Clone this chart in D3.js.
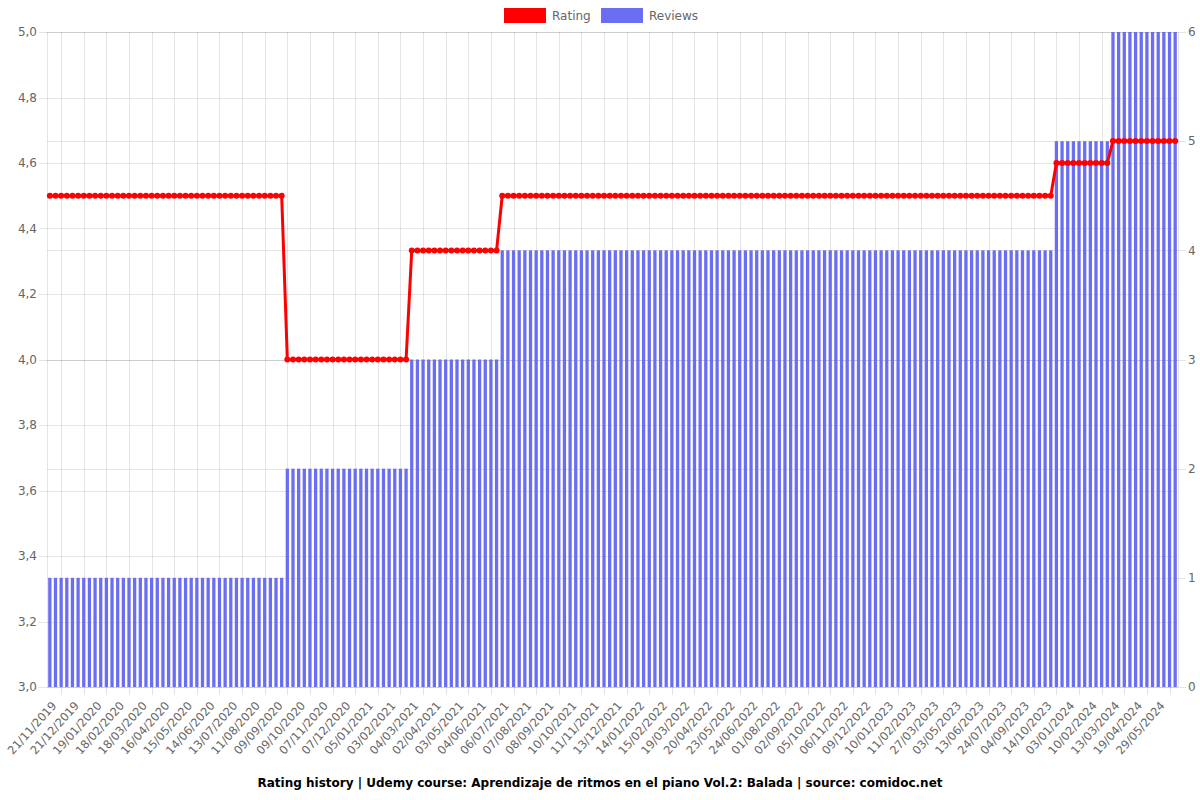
<!DOCTYPE html>
<html>
<head>
<meta charset="utf-8">
<script src="https://cdn.jsdelivr.net/npm/d3@7"></script>
<style>
  html, body { margin: 0; padding: 0; background: #fff; }
  svg { display: block; }
</style>
</head>
<body>
<div id="vis"></div>
<script>
// x axis labels shown on the chart (every 4th point carries a label)
const tickLabels = [
  "21/11/2019", "21/12/2019", "19/01/2020", "18/02/2020", "18/03/2020", "16/04/2020",
  "15/05/2020", "14/06/2020", "13/07/2020", "11/08/2020", "09/09/2020", "09/10/2020",
  "07/11/2020", "07/12/2020", "05/01/2021", "03/02/2021", "04/03/2021", "02/04/2021",
  "03/05/2021", "04/06/2021", "06/07/2021", "07/08/2021", "08/09/2021", "10/10/2021",
  "11/11/2021", "13/12/2021", "14/01/2022", "15/02/2022", "19/03/2022", "20/04/2022",
  "23/05/2022", "24/06/2022", "01/08/2022", "02/09/2022", "05/10/2022", "06/11/2022",
  "09/12/2022", "10/01/2023", "11/02/2023", "27/03/2023", "03/05/2023", "13/06/2023",
  "24/07/2023", "04/09/2023", "14/10/2023", "03/01/2024", "10/02/2024", "13/03/2024",
  "19/04/2024", "29/05/2024"
];
const firstLabelIndex = 2;
const labelEvery = 4;

// the data is a step series: each run holds the same values for a number of points
const runLengths   = [42, 22, 16, 98, 10, 12];
const ratingRuns   = [4.5, 4.0, 4.333, 4.5, 4.6, 4.667];
const reviewRuns   = [1, 2, 3, 4, 5, 6];

const ratingTicks = [3.0, 3.2, 3.4, 3.6, 3.8, 4.0, 4.2, 4.4, 4.6, 4.8, 5.0];
const reviewTicks = [0, 1, 2, 3, 4, 5, 6];

const title = "Rating history | Udemy course: Aprendizaje de ritmos en el piano Vol.2: Balada | source: comidoc.net";
const font = "'DejaVu Sans', Helvetica, Arial, sans-serif";

(function draw() {
  // one entry per point
  var points = [];
  runLengths.forEach((n, r) => {
    for (var k = 0; k < n; k++) {
      points.push({ i: points.length, rating: ratingRuns[r], reviews: reviewRuns[r] });
    }
  });

  var W = 1200, H = 800;
  var pLeft = 47, pRight = 1178, pTop = 32, pBottom = 687;

  var svg = d3.select("#vis").append("svg")
    .attr("width", W).attr("height", H)
    .style("font-family", font);

  var x = d3.scaleBand()
    .domain(points.map(d => d.i))
    .range([pLeft, pRight])
    .paddingInner(0.42)
    .paddingOuter(0.21);
  var cx = i => x(i) + x.bandwidth() / 2;

  var yL = d3.scaleLinear().domain([3, 5]).range([pBottom, pTop]);
  var yR = d3.scaleLinear().domain([0, 6]).range([pBottom, pTop]);

  var gridColor = "rgba(0,0,0,0.1)";
  var barColor = "rgba(99,102,241,0.95)";

  // vertical grid + tick marks
  var tickIdx = tickLabels.map((t, k) => firstLabelIndex + k * labelEvery);
  svg.append("g").selectAll("line").data(tickIdx).join("line")
    .attr("x1", d => Math.round(cx(d)) + 0.5).attr("x2", d => Math.round(cx(d)) + 0.5)
    .attr("y1", pTop).attr("y2", pBottom + 8)
    .attr("stroke", gridColor).attr("stroke-width", 1);

  // horizontal grid, left axis
  svg.append("g").selectAll("line").data(ratingTicks).join("line")
    .attr("x1", pLeft - 8).attr("x2", pRight)
    .attr("y1", d => Math.round(yL(d)) + 0.5).attr("y2", d => Math.round(yL(d)) + 0.5)
    .attr("stroke", gridColor);

  // horizontal grid, right axis
  svg.append("g").selectAll("line").data(reviewTicks).join("line")
    .attr("x1", pLeft).attr("x2", pRight + 8)
    .attr("y1", d => Math.round(yR(d)) + 0.5).attr("y2", d => Math.round(yR(d)) + 0.5)
    .attr("stroke", gridColor);

  // axis borders
  svg.append("line").attr("x1", pLeft + 0.5).attr("x2", pLeft + 0.5)
    .attr("y1", pTop).attr("y2", pBottom).attr("stroke", gridColor);
  svg.append("line").attr("x1", pRight + 0.5).attr("x2", pRight + 0.5)
    .attr("y1", pTop).attr("y2", pBottom).attr("stroke", gridColor);

  // bars
  svg.append("g").selectAll("rect").data(points).join("rect")
    .attr("x", d => x(d.i))
    .attr("width", x.bandwidth())
    .attr("y", d => yR(d.reviews))
    .attr("height", d => yR(0) - yR(d.reviews))
    .attr("fill", barColor);

  // rating line
  var line = d3.line().x(d => cx(d.i)).y(d => yL(d.rating));
  svg.append("path").datum(points)
    .attr("d", line)
    .attr("fill", "none")
    .attr("stroke", "#ff0000")
    .attr("stroke-width", 3)
    .attr("stroke-linejoin", "round");
  svg.append("g").selectAll("circle").data(points).join("circle")
    .attr("cx", d => cx(d.i)).attr("cy", d => yL(d.rating))
    .attr("r", 3).attr("fill", "#ff0000");

  // left axis labels
  svg.append("g").selectAll("text").data(ratingTicks).join("text")
    .attr("x", pLeft - 10).attr("y", d => yL(d))
    .attr("dy", "0.35em").attr("text-anchor", "end")
    .attr("font-size", 12).attr("fill", "#666")
    .text(d => d.toFixed(1).replace(".", ","));

  // right axis labels
  svg.append("g").selectAll("text").data(reviewTicks).join("text")
    .attr("x", pRight + 10).attr("y", d => yR(d))
    .attr("dy", "0.35em").attr("text-anchor", "start")
    .attr("font-size", 12).attr("fill", "#666")
    .text(d => d);

  // x labels, rotated
  svg.append("g").selectAll("text").data(tickLabels).join("text")
    .attr("transform", (d, k) => "translate(" + (cx(tickIdx[k]) - 4) + "," + (pBottom + 19) + ") rotate(-48)")
    .attr("text-anchor", "end")
    .attr("font-size", 11.5).attr("fill", "#666")
    .text(d => d);

  // legend
  var legend = [
    { name: "Rating", color: "#ff0000", x: 504 },
    { name: "Reviews", color: barColor, x: 601 }
  ];
  var lg = svg.append("g").selectAll("g").data(legend).join("g")
    .attr("transform", d => "translate(" + d.x + ",8)");
  lg.append("rect").attr("width", 42).attr("height", 15).attr("fill", d => d.color);
  lg.append("text").attr("x", 48).attr("y", 7.5).attr("dy", "0.35em")
    .attr("font-size", 12).attr("fill", "#666").text(d => d.name);

  // title at bottom
  svg.append("text")
    .attr("x", W / 2).attr("y", 787)
    .attr("text-anchor", "middle")
    .attr("font-size", 12).attr("font-weight", "bold").attr("fill", "#000")
    .text(title);
})();
</script>
</body>
</html>
